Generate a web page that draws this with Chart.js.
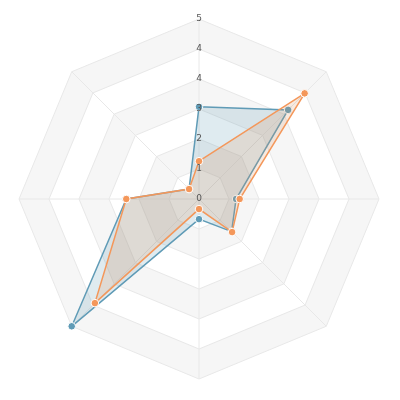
<!DOCTYPE html>
<html>
<head>
<meta charset="utf-8">
<script src="https://cdn.jsdelivr.net/npm/chart.js@4"></script>
<style>
html,body{margin:0;padding:0;background:#fff;}
#wrap{width:400px;height:400px;}
</style>
</head>
<body>
<div id="wrap"><canvas id="c" width="400" height="400"></canvas></div>
<script>
const categories = ['', '', '', '', '', '', '', ''];
const seriesBlue = [2.56, 3.5, 1.03, 1.28, 0.56, 5.0, 2.02, 0.39];
const seriesOrange = [1.05, 4.15, 1.13, 1.3, 0.28, 4.09, 2.02, 0.39];
const tickLabels = ['0', '1', '2', '3', '4', '4', '5'];

const bandPlugin = {
  id: 'bands',
  beforeDraw(chart) {
    const s = chart.scales.r;
    if (!s._labelsDeferred) {
      s._origDrawLabels = s.drawLabels;
      s.drawLabels = function () {};
      s._labelsDeferred = true;
    }
    const ctx = chart.ctx;
    const n = chart.data.labels.length;
    const ticks = s.ticks;
    ctx.save();
    for (let k = ticks.length - 1; k >= 1; k--) {
      const d = s.getDistanceFromCenterForValue(ticks[k].value);
      ctx.beginPath();
      for (let i = 0; i < n; i++) {
        const p = s.getPointPosition(i, d);
        if (i === 0) ctx.moveTo(p.x, p.y); else ctx.lineTo(p.x, p.y);
      }
      ctx.closePath();
      ctx.fillStyle = ((ticks.length - 1 - k) % 2 === 0) ? '#f6f6f6' : '#ffffff';
      ctx.fill();
    }
    ctx.restore();
  },
  afterDatasetsDraw(chart) {
    const s = chart.scales.r;
    if (s._origDrawLabels) s._origDrawLabels.call(s);
  }
};

new Chart(document.getElementById('c'), {
  type: 'radar',
  data: {
    labels: categories,
    datasets: [
      {
        data: seriesOrange,
        borderColor: '#f4975a',
        backgroundColor: 'rgba(220,150,100,0.2)',
        borderWidth: 1.5,
        pointBackgroundColor: '#f4975a',
        pointBorderColor: '#ffffff',
        pointBorderWidth: 1,
        pointRadius: 3.8,
        fill: true
      },
      {
        data: seriesBlue,
        borderColor: '#5f9bb6',
        backgroundColor: 'rgba(95,155,182,0.2)',
        borderWidth: 1.5,
        pointBackgroundColor: '#5f9bb6',
        pointBorderColor: '#ffffff',
        pointBorderWidth: 1,
        pointRadius: 3.8,
        fill: true
      }
    ]
  },
  options: {
    responsive: false,
    animation: false,
    layout: { padding: { left: 12, right: 14, top: 12, bottom: 14 } },
    plugins: { legend: { display: false }, tooltip: { enabled: false } },
    elements: { line: { tension: 0 } },
    scales: {
      r: {
        min: -0.000001,
        max: 5,
        angleLines: { color: '#e8e8e8', lineWidth: 1 },
        grid: { color: '#e8e8e8', lineWidth: 1 },
        pointLabels: { display: false },
        ticks: {
          count: 7,
          showLabelBackdrop: false,
          color: '#555555',
          font: { size: 9, family: 'DejaVu Sans' },
          callback: (v, i) => tickLabels[i]
        }
      }
    }
  },
  plugins: [bandPlugin]
});
</script>
</body>
</html>
